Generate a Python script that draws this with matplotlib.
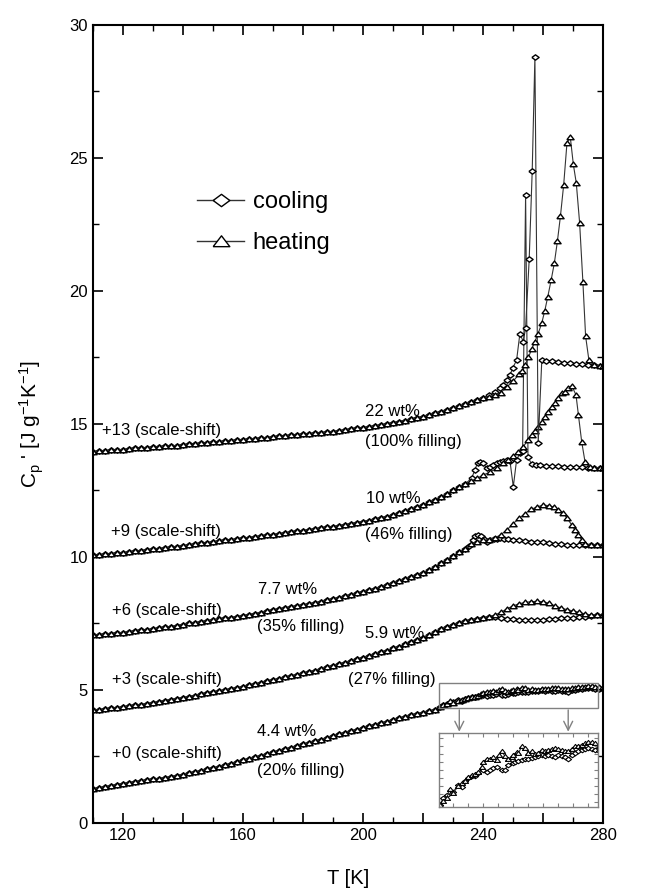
import numpy as np
import matplotlib
matplotlib.use("Agg")
import matplotlib.pyplot as plt
from matplotlib.lines import Line2D
from matplotlib.ticker import MultipleLocator

plt.rcParams['font.family'] = ['Liberation Sans', 'DejaVu Sans']
plt.rcParams['mathtext.default'] = 'regular'

# ---- data (C_p' in J/gK, already scale-shifted) ----
# shared part of each sample (cooling and heating lie on top of each other), T = 110, 112, ...
base22 = [13.96, 13.98, 13.99, 14.01, 14.03, 14.04, 14.06, 14.08, 14.09, 14.11,
          14.13, 14.14, 14.16, 14.18, 14.19, 14.21, 14.23, 14.25, 14.27, 14.29,
          14.31, 14.33, 14.35, 14.37, 14.39, 14.41, 14.43, 14.45, 14.47, 14.49,
          14.51, 14.53, 14.55, 14.57, 14.59, 14.61, 14.63, 14.65, 14.67, 14.69,
          14.71, 14.74, 14.77, 14.80, 14.83, 14.86, 14.89, 14.92, 14.96, 15.00,
          15.04, 15.09, 15.13, 15.18, 15.23, 15.28, 15.34, 15.40, 15.46, 15.52,
          15.59, 15.66, 15.74, 15.82, 15.90, 15.99]
base10 = [10.06, 10.08, 10.10, 10.12, 10.14, 10.16, 10.19, 10.21, 10.24, 10.26,
          10.29, 10.31, 10.34, 10.36, 10.39, 10.42, 10.45, 10.48, 10.51, 10.53,
          10.56, 10.59, 10.62, 10.64, 10.67, 10.70, 10.73, 10.76, 10.78, 10.81,
          10.84, 10.87, 10.90, 10.93, 10.96, 10.99, 11.02, 11.05, 11.08, 11.11,
          11.14, 11.17, 11.21, 11.25, 11.29, 11.33, 11.37, 11.42, 11.47, 11.52,
          11.58, 11.64, 11.71, 11.79, 11.87, 11.96, 12.05, 12.15, 12.26, 12.38,
          12.50, 12.62, 12.74]
base77 = [7.06, 7.08, 7.10, 7.12, 7.14, 7.16, 7.19, 7.21, 7.24, 7.26,
          7.29, 7.32, 7.35, 7.38, 7.42, 7.46, 7.50, 7.53, 7.56, 7.60,
          7.63, 7.66, 7.69, 7.72, 7.75, 7.79, 7.83, 7.87, 7.91, 7.95,
          7.99, 8.03, 8.07, 8.11, 8.15, 8.19, 8.23, 8.27, 8.32, 8.37,
          8.42, 8.47, 8.52, 8.57, 8.63, 8.69, 8.75, 8.81, 8.88, 8.95,
          9.02, 9.09, 9.16, 9.24, 9.32, 9.41, 9.50, 9.64, 9.76, 9.90,
          10.04, 10.17, 10.29]
base59 = [4.24, 4.26, 4.28, 4.31, 4.33, 4.36, 4.39, 4.42, 4.45, 4.48,
          4.52, 4.56, 4.60, 4.64, 4.67, 4.71, 4.75, 4.79, 4.83, 4.87,
          4.91, 4.95, 4.99, 5.04, 5.08, 5.12, 5.17, 5.22, 5.27, 5.32,
          5.37, 5.42, 5.47, 5.52, 5.57, 5.63, 5.68, 5.73, 5.79, 5.85,
          5.91, 5.97, 6.03, 6.09, 6.15, 6.21, 6.28, 6.34, 6.41, 6.48,
          6.56, 6.63, 6.71, 6.79, 6.88, 6.97, 7.08, 7.19, 7.29, 7.37,
          7.45, 7.52, 7.58, 7.63, 7.67, 7.71]
base44 = [1.28, 1.32, 1.36, 1.40, 1.44, 1.48, 1.51, 1.55, 1.58, 1.61,
          1.64, 1.67, 1.70, 1.74, 1.78, 1.82, 1.86, 1.91, 1.96, 2.01,
          2.06, 2.12, 2.17, 2.23, 2.29, 2.35, 2.41, 2.47, 2.53, 2.59,
          2.65, 2.71, 2.77, 2.83, 2.89, 2.95, 3.01, 3.07, 3.13, 3.20,
          3.27, 3.33, 3.39, 3.45, 3.51, 3.57, 3.63, 3.69, 3.75, 3.81,
          3.87, 3.93, 3.99, 4.05, 4.10, 4.15, 4.20, 4.25]

# 22 wt% (+13)
c22_T = [242, 244, 245.7, 246.8, 247.9, 249, 249.9, 251.2, 252.3, 253.4, 254.2,
         255.4, 256.4, 257.3, 258.4, 259.6, 261, 263, 265, 267, 269, 271, 273,
         275, 277, 279, 280]
c22_C = [16.08, 16.2, 16.35, 16.47, 16.65, 16.84, 17.1, 17.4, 18.4, 18.1, 18.6,
         21.2, 24.5, 28.8, 14.3, 17.4, 17.38, 17.35, 17.33, 17.3, 17.28, 17.26,
         17.24, 17.22, 17.2, 17.18, 17.17]
h22_T = [242, 244, 246, 248, 250, 252, 253, 254, 255.1, 256.2, 257.3, 258.4,
         259.6, 260.6, 261.6, 262.7, 263.8, 264.8, 265.8, 266.9, 268, 269.1,
         270.1, 271.1, 272.2, 273.3, 274.2, 275.3, 277, 279, 280]
h22_C = [16.02, 16.1, 16.18, 16.4, 16.6, 16.87, 17.0, 17.2, 17.5, 17.8, 18.1,
         18.4, 18.8, 19.26, 19.79, 20.4, 21.06, 21.87, 22.8, 24.0, 25.58, 25.78,
         24.77, 24.05, 22.57, 20.33, 18.3, 17.4, 17.2, 17.18, 17.17]

# 10 wt% (+9)
c10_T = [236.2, 237.3, 238.2, 239, 240.1, 241.2, 242.3, 243.4, 244.6, 245.7,
         246.8, 247.9, 249, 250.1, 251.2, 252.3, 253.2, 254.2, 255, 256.2, 257.5,
         259, 261, 263, 265, 267, 269, 271, 273, 275, 277, 279, 280]
c10_C = [12.96, 13.27, 13.55, 13.58, 13.52, 13.33, 13.38, 13.46, 13.52, 13.58,
         13.62, 13.65, 13.6, 12.64, 13.65, 13.9, 14.0, 23.6, 13.77, 13.48, 13.45,
         13.44, 13.43, 13.42, 13.41, 13.40, 13.39, 13.38, 13.37, 13.36, 13.35,
         13.35, 13.34]
h10_T = [236, 237.9, 240.1, 242.4, 244.6, 246.8, 248.4, 250.1, 251.8, 253.4,
         255.1, 256.2, 257.3, 258.4, 259.6, 260.7, 261.8, 262.9, 264, 265.1,
         266.2, 267.3, 268.4, 269.6, 271, 271.8, 272.9, 274, 275.5, 277, 279, 280]
h10_C = [12.84, 12.95, 13.08, 13.2, 13.33, 13.52, 13.65, 13.8, 13.96, 14.15,
         14.4, 14.57, 14.74, 14.89, 15.08, 15.27, 15.46, 15.65, 15.8, 15.96,
         16.15, 16.2, 16.37, 16.43, 16.09, 15.34, 14.33, 13.58, 13.38, 13.36,
         13.35, 13.34]

# 7.7 wt% (+6)
c77_T = [235.5, 236.7, 237.5, 238.4, 239.3, 240.2, 241.2, 242.5, 243.6, 244.6,
         245.7, 247, 248.5, 250, 252, 254, 256, 258, 260, 262, 264, 266, 268,
         270, 272, 274, 276, 278, 280]
c77_C = [10.42, 10.62, 10.78, 10.83, 10.78, 10.66, 10.58, 10.62, 10.66, 10.68,
         10.70, 10.68, 10.66, 10.64, 10.62, 10.60, 10.58, 10.56, 10.55, 10.52,
         10.50, 10.47, 10.46, 10.45, 10.45, 10.45, 10.45, 10.45, 10.44]
h77_T = [236, 238, 240, 242, 244, 246, 248, 250, 252, 254, 256, 258, 260, 262,
         263.5, 265, 266.8, 268, 269.6, 270.7, 271.8, 272.9, 274, 276, 278, 280]
h77_C = [10.48, 10.58, 10.62, 10.65, 10.72, 10.84, 11.02, 11.25, 11.45, 11.63,
         11.79, 11.88, 11.95, 11.93, 11.88, 11.78, 11.64, 11.46, 11.2, 11.0,
         10.83, 10.64, 10.5, 10.46, 10.45, 10.44]

# 5.9 wt% (+3)
c59_T = [242, 244, 246, 248, 250, 252, 254, 256, 258, 260, 262, 264, 266, 268,
         270, 272, 274, 276, 278, 280]
c59_C = [7.74, 7.76, 7.72, 7.68, 7.66, 7.64, 7.63, 7.63, 7.62, 7.64, 7.66, 7.68,
         7.69, 7.70, 7.72, 7.74, 7.76, 7.78, 7.80, 7.82]
h59_C = [7.76, 7.82, 7.92, 8.05, 8.16, 8.24, 8.29, 8.32, 8.33, 8.32, 8.26, 8.16,
         8.08, 8.02, 7.97, 7.92, 7.86, 7.82, 7.81, 7.82]

# 4.4 wt% (+0), also shown magnified in the inset
c44_T = [225.6, 226.7, 227.9, 230.1, 231.7, 232.9, 234.0, 235.1, 236.2, 237.3,
         238.4, 240.1, 241.2, 242.3, 243.4, 244.5, 246.2, 247.3, 248.4, 250.1,
         250.6, 251.8, 252.9, 254.0, 255.1, 256.2, 257.3, 258.4, 259.5, 260.6,
         261.8, 263.0, 264.0, 265.1, 266.2, 267.3, 268.4, 269.5, 270.6, 271.7,
         272.9, 274.0, 275.1, 276.2, 277.3, 278.5, 280]
c44_C = [4.37, 4.45, 4.49, 4.53, 4.62, 4.59, 4.66, 4.70, 4.72, 4.72,
         4.76, 4.80, 4.78, 4.80, 4.82, 4.84, 4.80, 4.80, 4.86, 4.88,
         4.90, 4.91, 4.92, 4.93, 4.94, 4.95, 4.96, 4.97, 4.98, 4.97,
         4.98, 4.97, 4.96, 4.98, 4.97, 4.96, 4.94, 4.98, 5.01, 5.03,
         5.05, 5.06, 5.07, 5.06, 5.05, 5.03, 5.05]
h44_T = [225.6, 226.7, 227.9, 229.0, 230.1, 231.7, 232.9, 234.0, 235.1, 236.2,
         237.3, 238.4, 239.5, 240.1, 241.2, 242.3, 243.4, 244.5, 245.4, 246.2,
         247.3, 248.4, 249.5, 250.1, 251.2, 251.8, 252.9, 254.0, 255.1, 256.2,
         257.3, 258.4, 259.5, 260.6, 261.8, 263.0, 264.0, 265.1, 266.2, 267.3,
         268.4, 269.5, 270.6, 271.7, 272.9, 274.0, 275.1, 276.2, 277.3, 278.5, 280]
h44_C = [4.37, 4.42, 4.46, 4.57, 4.52, 4.60, 4.64, 4.66, 4.71, 4.74,
         4.75, 4.78, 4.84, 4.90, 4.94, 4.93, 4.96, 4.92, 4.98, 5.03,
         4.97, 4.94, 4.96, 4.99, 5.02, 5.01, 5.09, 5.07, 5.01, 5.03,
         5.00, 5.01, 5.05, 5.04, 5.05, 5.06, 5.07, 5.06, 5.05, 5.04,
         5.03, 5.06, 5.09, 5.10, 5.11, 5.13, 5.15, 5.14, 5.13, 5.10, 5.10]

sample_labels = [("22 wt%", 200.7, 15.46), ("(100% filling)", 200.7, 14.33),
                 ("10 wt%", 200.9, 12.2), ("(46% filling)", 200.7, 10.83),
                 ("7.7 wt%", 165.0, 8.76), ("(35% filling)", 164.6, 7.38),
                 ("5.9 wt%", 200.7, 7.12), ("(27% filling)", 195.1, 5.38),
                 ("4.4 wt%", 164.6, 3.43), ("(20% filling)", 164.6, 1.99)]
shift_labels = [("+13 (scale-shift)", 112.9, 14.77), ("+9 (scale-shift)", 115.9, 10.95),
                ("+6 (scale-shift)", 116.2, 8.0), ("+3 (scale-shift)", 116.2, 5.38),
                ("+0 (scale-shift)", 116.2, 2.62)]

xticks = [120, 140, 160, 180, 200, 220, 240, 260, 280]
xticklabels = ["120", "", "160", "", "200", "", "240", "", "280"]
yticks = [0, 5, 10, 15, 20, 25, 30]

zoom_box = (225.3, 278.2, 4.34, 5.26)   # T range, C range shown in the inset
arrow_T = [232.1, 268.4]

# ---- drawing ----
DIAMOND = [(-1, 0), (0, 0.74), (1, 0), (0, -0.74), (-1, 0)]
TRIANGLE = [(-1, -0.62), (0, 0.68), (1, -0.62), (-1, -0.62)]


def grid(vals):
    return list(110 + 2 * np.arange(len(vals)))


def curve(ax, T, C, mk, ms=5.2, mew=1.0):
    ax.plot(T, C, color='#333333', lw=0.8, marker=mk, ms=ms, mfc='white',
            mec='black', mew=mew)


fig = plt.figure(figsize=(6.47, 8.92), dpi=100)
ax = fig.add_axes([0.1437, 0.0774, 0.7883, 0.8946])

samples = [(base44, c44_T, c44_C, h44_T, h44_C),
           (base59, c59_T, c59_C, c59_T, h59_C),
           (base77, c77_T, c77_C, h77_T, h77_C),
           (base10, c10_T, c10_C, h10_T, h10_C),
           (base22, c22_T, c22_C, h22_T, h22_C)]
for base, cT, cC, hT, hC in samples:
    bT = grid(base)
    curve(ax, bT + list(cT), base + list(cC), DIAMOND)
    curve(ax, bT + list(hT), base + list(hC), TRIANGLE)

for txt, x, y in sample_labels + shift_labels:
    ax.text(x, y, txt, fontsize=12, ha='left', va='center')

# zoom rectangle and arrows
t0, t1, y0, y1 = zoom_box
ax.add_patch(plt.Rectangle((t0, y0), t1 - t0, y1 - y0, fill=False,
                           ec='#808080', lw=1.0, zorder=5))
for T in arrow_T:
    ax.annotate('', xy=(T, 3.43), xytext=(T, 4.25),
                arrowprops=dict(arrowstyle='->', color='#808080', lw=1.0,
                                mutation_scale=16, shrinkA=0, shrinkB=0))

ax.set_xlim(110, 280)
ax.set_ylim(0, 30)
ax.set_xticks(xticks)
ax.set_xticklabels(xticklabels)
ax.xaxis.set_minor_locator(MultipleLocator(10))
ax.set_yticks(yticks)
ax.yaxis.set_minor_locator(MultipleLocator(2.5))
ax.tick_params(which='both', direction='in', top=True, right=True, labelsize=12)
ax.tick_params(which='major', length=7, width=1.2)
ax.tick_params(which='minor', length=4, width=1.0)
for s in ax.spines.values():
    s.set_linewidth(1.5)
ax.set_xlabel("T [K]", fontsize=14.5, labelpad=19)
ax.set_ylabel("C$_p$ ' [J g$^{-1}$K$^{-1}$]", fontsize=15, labelpad=17)

handles = [Line2D([], [], color='#333333', lw=1.0, marker=DIAMOND, ms=12,
                  mfc='white', mec='black', mew=1.0),
           Line2D([], [], color='#333333', lw=1.0, marker=TRIANGLE, ms=12,
                  mfc='white', mec='black', mew=1.0)]
ax.legend(handles, ["cooling", "heating"], loc='upper left',
          bbox_to_anchor=(0.204, 0.792), frameon=False, fontsize=17,
          handlelength=2.0, handletextpad=0.35, labelspacing=0.8,
          borderaxespad=0, borderpad=0)

# inset
ins = fig.add_axes([0.6785, 0.0950, 0.2453, 0.0836])
curve(ins, c44_T, c44_C, DIAMOND, ms=4.4, mew=0.8)
curve(ins, h44_T, h44_C, TRIANGLE, ms=4.4, mew=0.8)
ins.set_xlim(t0, t1)
ins.set_ylim(y0, y1)
ins.xaxis.set_major_locator(MultipleLocator(5))
ins.yaxis.set_major_locator(MultipleLocator(0.1))
ins.tick_params(direction='in', top=True, right=True, length=3, width=0.8,
                color='#808080', labelbottom=False, labelleft=False)
for s in ins.spines.values():
    s.set_color('#808080')
    s.set_linewidth(1.0)

fig.savefig("out.png", dpi=100)
